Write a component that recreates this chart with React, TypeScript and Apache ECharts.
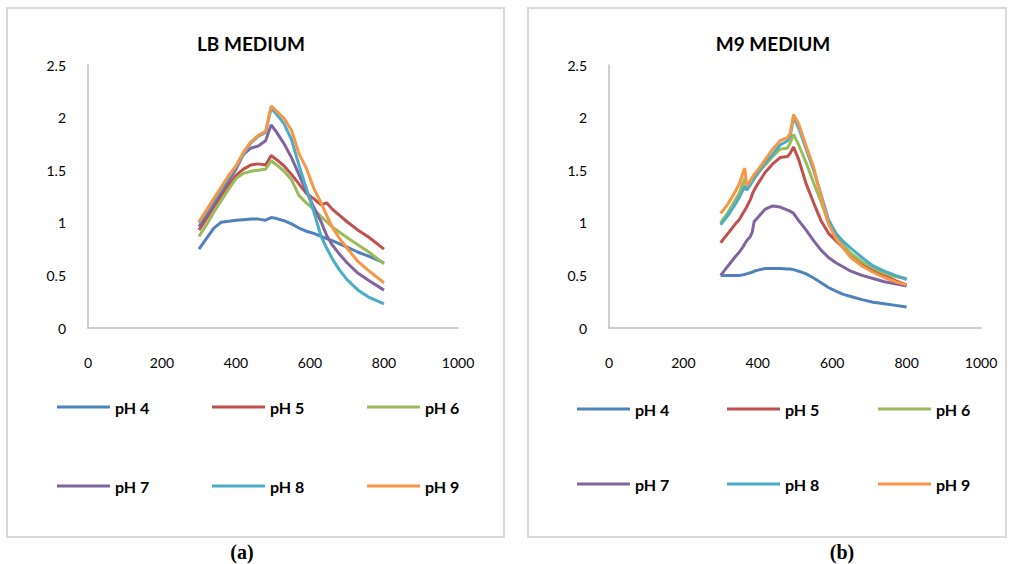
import React, { useEffect, useRef } from "react";
import * as echarts from "echarts";

// LB medium (a)
const wavelengthsLB = [300, 320, 340, 360, 380, 400, 420, 440, 460, 480, 495, 510, 530, 550, 570, 590, 610, 630, 645, 660, 680, 700, 730, 760, 800];
const lbPH4 = [0.75, 0.85, 0.95, 1.005, 1.015, 1.025, 1.03, 1.035, 1.035, 1.025, 1.05, 1.04, 1.02, 0.99, 0.95, 0.92, 0.9, 0.87, 0.85, 0.83, 0.8, 0.77, 0.72, 0.68, 0.62];
const lbPH5 = [0.93, 1.04, 1.15, 1.26, 1.36, 1.45, 1.51, 1.55, 1.56, 1.55, 1.64, 1.6, 1.54, 1.46, 1.37, 1.28, 1.23, 1.17, 1.19, 1.13, 1.07, 1.01, 0.93, 0.86, 0.75];
const lbPH6 = [0.87, 0.98, 1.1, 1.21, 1.32, 1.42, 1.47, 1.49, 1.5, 1.51, 1.59, 1.55, 1.49, 1.41, 1.26, 1.19, 1.13, 1.06, 1.01, 0.96, 0.91, 0.86, 0.79, 0.72, 0.61];
const lbPH7 = [0.965, 1.07, 1.18, 1.29, 1.4, 1.51, 1.65, 1.71, 1.73, 1.78, 1.93, 1.86, 1.75, 1.62, 1.46, 1.3, 1.15, 1.01, 0.88, 0.79, 0.7, 0.62, 0.52, 0.45, 0.36];
const lbPH8 = [1.0, 1.1, 1.21, 1.32, 1.43, 1.53, 1.65, 1.76, 1.82, 1.86, 2.09, 2.03, 1.94, 1.79, 1.55, 1.33, 1.11, 0.87, 0.76, 0.66, 0.55, 0.46, 0.36, 0.29, 0.23];
const lbPH9 = [1.01, 1.12, 1.23, 1.34, 1.45, 1.54, 1.67, 1.77, 1.83, 1.87, 2.11, 2.06, 1.99, 1.88, 1.66, 1.52, 1.33, 1.19, 1.07, 0.96, 0.85, 0.76, 0.63, 0.54, 0.43];

// M9 medium (b)
const wavelengthsM9 = [300, 320, 340, 350, 360, 365, 370, 380, 385, 390, 400, 420, 440, 460, 480, 487, 496, 510, 530, 550, 570, 590, 610, 630, 650, 680, 710, 740, 770, 800];
const m9PH4 = [0.5, 0.5, 0.5, 0.5, 0.505, 0.51, 0.515, 0.525, 0.53, 0.54, 0.55, 0.565, 0.565, 0.565, 0.56, 0.56, 0.555, 0.54, 0.515, 0.475, 0.43, 0.385, 0.35, 0.32, 0.3, 0.27, 0.245, 0.23, 0.215, 0.2];
const m9PH5 = [0.81, 0.9, 0.99, 1.03, 1.09, 1.12, 1.15, 1.22, 1.27, 1.31, 1.37, 1.48, 1.56, 1.62, 1.63, 1.66, 1.72, 1.6, 1.37, 1.19, 1.02, 0.9, 0.83, 0.76, 0.69, 0.61, 0.55, 0.5, 0.45, 0.41];
const m9PH6 = [1.0, 1.1, 1.22, 1.28, 1.38, 1.42, 1.32, 1.37, 1.4, 1.42, 1.47, 1.55, 1.63, 1.7, 1.71, 1.76, 1.84, 1.74, 1.57, 1.38, 1.2, 1.0, 0.89, 0.79, 0.71, 0.63, 0.57, 0.52, 0.49, 0.47];
const m9PH7 = [0.5, 0.59, 0.68, 0.72, 0.77, 0.8, 0.83, 0.87, 0.91, 1.01, 1.05, 1.13, 1.16, 1.15, 1.12, 1.11, 1.09, 1.02, 0.93, 0.83, 0.74, 0.67, 0.62, 0.58, 0.54, 0.5, 0.47, 0.44, 0.42, 0.4];
const m9PH8 = [0.98, 1.07, 1.18, 1.24, 1.31, 1.35, 1.31, 1.36, 1.39, 1.42, 1.47, 1.57, 1.65, 1.74, 1.78, 1.82, 2.0, 1.9, 1.7, 1.5, 1.27, 1.03, 0.9, 0.82, 0.76, 0.67, 0.59, 0.54, 0.5, 0.46];
const m9PH9 = [1.09, 1.18, 1.3, 1.37, 1.47, 1.52, 1.35, 1.4, 1.43, 1.46, 1.5, 1.6, 1.7, 1.78, 1.81, 1.85, 2.03, 1.94, 1.73, 1.53, 1.25, 0.99, 0.85, 0.76, 0.67, 0.59, 0.53, 0.48, 0.44, 0.41];

const seriesNames = ["pH 4", "pH 5", "pH 6", "pH 7", "pH 8", "pH 9"];
const colors = ["#4F81BD", "#C0504D", "#9BBB59", "#8064A2", "#4BACC6", "#F79646"];
const chartTitles = ["LB MEDIUM", "M9 MEDIUM"];
const captions = ["(a)", "(b)"];
const xTicks = { min: 0, max: 1000, interval: 200 };
const yTicks = { min: 0, max: 2.5, interval: 0.5 };

const lbSets = [lbPH4, lbPH5, lbPH6, lbPH7, lbPH8, lbPH9];
const m9Sets = [m9PH4, m9PH5, m9PH6, m9PH7, m9PH8, m9PH9];

export default function App() {
  const ref = useRef<HTMLDivElement>(null);
  useEffect(() => {
    if (!ref.current) return;
    const chart = echarts.init(ref.current, null, { renderer: "svg" });
    const font = "Lato, 'Open Sans', sans-serif";
    const axisLine = { show: true, lineStyle: { color: "#BFBFBF", width: 1.5 } };
    const mkX = (gridIndex: number) => ({
      type: "value",
      gridIndex,
      min: xTicks.min,
      max: xTicks.max,
      interval: xTicks.interval,
      axisLine,
      axisTick: { show: false },
      splitLine: { show: false },
      axisLabel: { margin: 27, fontSize: 14, color: "#000", fontFamily: font, formatter: (v: number) => String(v) },
    });
    const mkY = (gridIndex: number) => ({
      type: "value",
      gridIndex,
      min: yTicks.min,
      max: yTicks.max,
      interval: yTicks.interval,
      axisLine,
      axisTick: { show: false },
      splitLine: { show: false },
      axisLabel: { margin: 22, fontSize: 14, color: "#000", fontFamily: font, formatter: (v: number) => String(v) },
    });
    const mkSeries = (sets: number[][], xs: number[], idx: number) =>
      sets.map((vals, i) => ({
        type: "line",
        name: seriesNames[i],
        xAxisIndex: idx,
        yAxisIndex: idx,
        data: xs.map((w, j) => [w, vals[j]]),
        showSymbol: false,
        symbol: "none",
        lineStyle: { width: 3, color: colors[i] },
        itemStyle: { color: colors[i] },
        z: 2 + i,
      }));
    const legendCols = [[57, 212, 367], [577, 727, 878]];
    const legendRows = [[399, 478], [401, 476]];
    const legends: any[] = [];
    for (let c = 0; c < 2; c++) {
      seriesNames.forEach((name, i) => {
        legends.push({
          data: [name],
          left: legendCols[c][i % 3],
          top: legendRows[c][Math.floor(i / 3)],
          icon: "rect",
          itemWidth: 53,
          itemHeight: 3,
          selectedMode: false,
          padding: 0,
          textStyle: { fontFamily: font, fontWeight: "bold", fontSize: 16, color: "#000" },
        });
      });
    }
    chart.setOption({
      animation: false,
      color: colors,
      grid: [
        { left: 88, top: 65, width: 370, height: 263 },
        { left: 609, top: 65, width: 372, height: 263 },
      ],
      xAxis: [mkX(0), mkX(1)],
      yAxis: [mkY(0), mkY(1)],
      legend: legends,
      graphic: [
        { type: "rect", shape: { x: 7, y: 8, width: 497, height: 529 }, style: { fill: "none", stroke: "#D9D9D9", lineWidth: 2 }, z: -1 },
        { type: "rect", shape: { x: 528, y: 8, width: 478, height: 529 }, style: { fill: "none", stroke: "#D9D9D9", lineWidth: 2 }, z: -1 },
        { type: "text", x: 251, y: 43, style: { text: chartTitles[0], fontFamily: font, fontWeight: "bold", fontSize: 19, fill: "#000", align: "center", verticalAlign: "middle" } },
        { type: "text", x: 773, y: 43, style: { text: chartTitles[1], fontFamily: font, fontWeight: "bold", fontSize: 19, fill: "#000", align: "center", verticalAlign: "middle" } },
        { type: "text", x: 242, y: 552, style: { text: captions[0], fontFamily: "'Liberation Serif', 'DejaVu Serif', serif", fontWeight: "bold", fontSize: 20, fill: "#000", align: "center", verticalAlign: "middle" } },
        { type: "text", x: 842, y: 552, style: { text: captions[1], fontFamily: "'Liberation Serif', 'DejaVu Serif', serif", fontWeight: "bold", fontSize: 20, fill: "#000", align: "center", verticalAlign: "middle" } },
      ],
      series: [...mkSeries(lbSets, wavelengthsLB, 0), ...mkSeries(m9Sets, wavelengthsM9, 1)],
    });
    return () => chart.dispose();
  }, []);
  return (
    <div
      ref={ref}
      style={{ position: "absolute", left: 0, top: 0, width: 1011, height: 564, background: "#fff" }}
    />
  );
}
